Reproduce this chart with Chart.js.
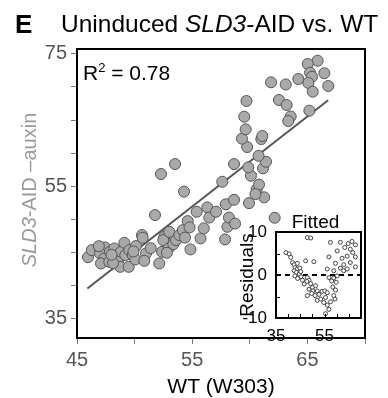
<!DOCTYPE html>
<html>
<head>
<meta charset="utf-8">
<script src="https://cdn.jsdelivr.net/npm/chart.js@4.4.1/dist/chart.umd.min.js"></script>
<style>
  html, body { margin: 0; padding: 0; background: #fff; }
  #wrap { position: relative; width: 388px; height: 398px; }
  #mainChart { position: absolute; left: 0; top: 0; }
  #insetChart { position: absolute; left: 236px; top: 210px; }
</style>
</head>
<body>
<div id="wrap">
  <canvas id="mainChart" width="388" height="398"></canvas>
  <canvas id="insetChart" width="130" height="140"></canvas>
</div>
<script>
// main scatter: WT (W303) vs SLD3-AID -auxin
const wtValues = [45.95, 46.28, 47.00, 47.43, 47.00, 47.37, 47.08, 47.80, 47.86, 48.24,
  48.32, 48.53, 48.82, 48.76, 49.11, 49.19, 49.49, 49.54, 49.84, 50.06,
  50.12, 50.64, 50.70, 50.99, 50.84, 52.14, 52.38, 52.58, 52.49, 52.96,
  53.36, 53.59, 53.01, 53.88, 54.18, 48.13, 54.38, 54.85, 55.72, 51.77,
  52.29, 53.51, 54.29, 54.61, 54.77, 55.39, 56.00, 56.31, 56.48, 57.07,
  57.85, 58.06, 58.19, 58.72, 57.92, 58.63, 59.93, 61.25, 60.60, 60.80,
  60.49, 62.16, 57.61, 60.10, 61.15, 59.87, 58.63, 61.41, 60.76, 59.77,
  59.32, 61.00, 61.09, 59.64, 59.52, 59.71, 65.89, 65.03, 65.23, 66.47,
  65.40, 64.21, 65.08, 66.81, 61.84, 63.12, 65.46, 62.53, 63.20, 65.17,
  63.55, 63.34, 46.90, 48.00, 49.90, 51.40, 52.80];
const sld3Values = [44.24, 45.30, 45.45, 45.71, 44.80, 44.05, 43.29, 43.53, 45.05, 45.56,
  44.29, 43.53, 45.05, 42.77, 46.41, 44.55, 42.77, 45.30, 44.55, 43.89,
  45.91, 47.58, 47.17, 44.80, 43.68, 43.29, 45.05, 47.32, 46.82, 45.56,
  46.21, 46.82, 48.08, 47.58, 48.33, 43.33, 47.20, 45.41, 47.08, 50.61,
  56.82, 58.33, 54.17, 49.70, 48.74, 51.11, 48.59, 51.77, 50.23, 51.11,
  46.92, 48.83, 50.23, 49.32, 52.24, 52.92, 52.42, 53.30, 54.50, 55.23,
  53.79, 50.20, 55.65, 56.56, 57.68, 57.83, 58.33, 58.68, 59.58, 60.91,
  62.17, 62.12, 62.58, 63.59, 65.50, 67.88, 73.98, 73.48, 72.17, 72.08,
  71.56, 71.21, 70.61, 70.15, 70.71, 70.38, 69.29, 68.03, 67.27, 66.41,
  65.53, 64.85, 45.90, 44.60, 45.10, 45.60, 44.90];

// fitted line ends
const fitX = [45.9, 66.8];
const fitY = [39.5, 68.0];

const xTicks = [45, 50, 55, 60, 65, 70];
const xTickLabels = ["45", "", "55", "", "65", ""];
const yTicks = [35, 40, 45, 50, 55, 60, 65, 70, 75];
const yTickLabels = ["35", "", "", "", "55", "", "", "", "75"];

// inset: residuals vs fitted
const fittedValues = [47.9, 49.3, 57.4, 61.5, 64.7, 66.3, 67.7, 63.3, 65.6, 60.2,
  66.6, 64.3, 67.7, 56.8, 62.2, 59.5, 62.9, 65.6, 67.7, 56.1,
  58.8, 61.5, 62.9, 64.3, 47.2, 50.6, 39.1, 40.4, 41.1, 41.8,
  42.5, 43.8, 42.9, 43.8, 44.8, 42.5, 43.4, 44.5, 45.2, 42.8,
  43.9, 45.3, 45.9, 47.9, 48.6, 47.7, 46.6, 49.3, 50.0, 51.3,
  48.6, 50.2, 52.0, 49.7, 51.1, 47.9, 52.7, 54.0, 55.1, 56.1,
  52.0, 53.4, 55.4, 54.7, 56.1, 56.8, 55.4, 57.5, 58.8, 59.3,
  59.5, 58.4, 59.8, 58.8, 57.9, 56.8, 60.2];
const residualValues = [8.7, 8.6, 7.6, 7.6, 7.3, 7.8, 7.0, 6.4, 6.0, 5.6,
  5.2, 4.4, 4.2, 4.2, 3.9, 2.7, 2.4, 2.9, 1.9, 1.4,
  1.0, 1.6, 1.0, 1.4, 3.3, 3.1, 5.2, 4.9, 4.1, 2.9,
  2.4, 2.7, 1.7, 1.4, 1.6, 1.0, 0.6, 0.2, 0.8, -0.2,
  -0.8, -0.4, -1.2, -0.6, -1.2, -1.5, -2.1, -2.0, -2.9, -2.5,
  -3.3, -3.7, -3.7, -4.3, -4.8, -4.8, -4.5, -3.8, -3.7, -4.1,
  -5.9, -5.6, -5.2, -6.4, -7.0, -8.0, -9.0, -6.2, -4.8, -5.6,
  -3.5, -2.8, -1.7, -0.7, -1.4, -0.6, -0.2];

const insetXTicks = [35, 40, 45, 50, 55, 60, 65, 70];
const insetXTickLabels = ["35", "", "", "", "55", "", "", ""];
const insetYTicks = [-10, -5, 0, 5, 10];
const insetYTickLabels = ["-10", "", "0", "", "10"];

const FONT = "'Liberation Sans', Arial, Helvetica, sans-serif";

// draws pieces of text with mixed styles one after another
function drawRuns(ctx, runs, x, y) {
  let cx = x;
  runs.forEach(r => {
    ctx.font = r.font;
    ctx.fillStyle = r.color;
    ctx.fillText(r.text, cx, y + (r.dy || 0));
    cx += ctx.measureText(r.text).width;
  });
}
function runsWidth(ctx, runs) {
  let w = 0;
  runs.forEach(r => { ctx.font = r.font; w += ctx.measureText(r.text).width; });
  return w;
}

const mainDecor = {
  id: "mainDecor",
  afterDatasetsDraw(chart) {
    const ctx = chart.ctx;
    const a = chart.chartArea;
    ctx.save();
    ctx.strokeStyle = "#000";
    ctx.lineWidth = 2;
    ctx.strokeRect(a.left, a.top, a.right - a.left, a.bottom - a.top);

    ctx.textAlign = "left";
    ctx.textBaseline = "alphabetic";
    // panel letter + title
    drawRuns(ctx, [{ text: "E", font: "bold 26px " + FONT, color: "#000" }], 15, 33);
    drawRuns(ctx, [
      { text: "Uninduced ", font: "24.5px " + FONT, color: "#000" },
      { text: "SLD3", font: "italic 24.5px " + FONT, color: "#000" },
      { text: "-AID vs. WT", font: "24.5px " + FONT, color: "#000" }
    ], 61, 32);

    // R^2 annotation
    drawRuns(ctx, [
      { text: "R", font: "21px " + FONT, color: "#000" },
      { text: "2", font: "13px " + FONT, color: "#000", dy: -8 },
      { text: " = 0.78", font: "21px " + FONT, color: "#000" }
    ], 83, 80);

    // x title
    ctx.textAlign = "center";
    ctx.font = "21px " + FONT;
    ctx.fillStyle = "#000";
    ctx.fillText("WT (W303)", (a.left + a.right) / 2, 393);

    // y title (rotated)
    const yRuns = [
      { text: "SLD3", font: "italic 20px " + FONT, color: "#999" },
      { text: "-AID \u2013auxin", font: "20px " + FONT, color: "#999" }
    ];
    ctx.translate(36, 190);
    ctx.rotate(-Math.PI / 2);
    ctx.textAlign = "left";
    drawRuns(ctx, yRuns, -runsWidth(ctx, yRuns) / 2, 0);
    ctx.restore();
  }
};

const mainChart = new Chart(document.getElementById("mainChart"), {
  type: "scatter",
  data: {
    datasets: [
      {
        label: "genes",
        data: wtValues.map((x, i) => ({ x: x, y: sld3Values[i] })),
        backgroundColor: "#a9a9a9",
        borderColor: "#555",
        borderWidth: 1,
        pointRadius: 5.5
      },
      {
        type: "line",
        label: "fit",
        data: fitX.map((x, i) => ({ x: x, y: fitY[i] })),
        borderColor: "#555",
        borderWidth: 2,
        pointRadius: 0,
        fill: false
      }
    ]
  },
  options: {
    responsive: false,
    animation: false,
    layout: { padding: { top: 49, right: 23, left: 0, bottom: 0 } },
    plugins: { legend: { display: false }, tooltip: { enabled: false } },
    scales: {
      x: {
        type: "linear",
        min: 45,
        max: 70,
        afterBuildTicks: s => { s.ticks = xTicks.map(v => ({ value: v })); },
        afterFit: s => { s.height = 60; },
        border: { display: false },
        grid: { drawOnChartArea: false, drawTicks: true, tickLength: 6, color: "#777" },
        ticks: {
          autoSkip: false,
          maxRotation: 0,
          padding: 4,
          color: "#555",
          font: { family: FONT, size: 20 },
          callback: (v, i) => xTickLabels[i]
        }
      },
      y: {
        type: "linear",
        min: 32,
        max: 75.75,
        afterBuildTicks: s => { s.ticks = yTicks.map(v => ({ value: v })); },
        afterFit: s => { s.width = 77; },
        border: { display: false },
        grid: { drawOnChartArea: false, drawTicks: true, tickLength: 6, color: "#777" },
        ticks: {
          autoSkip: false,
          padding: 4,
          color: "#555",
          font: { family: FONT, size: 20 },
          callback: (v, i) => yTickLabels[i]
        }
      }
    }
  },
  plugins: [mainDecor]
});

const insetDecor = {
  id: "insetDecor",
  beforeDatasetsDraw(chart) {
    const ctx = chart.ctx;
    const a = chart.chartArea;
    ctx.save();
    ctx.fillStyle = "#fff";
    ctx.fillRect(a.left, a.top, a.right - a.left, a.bottom - a.top);
    ctx.restore();
  },
  afterDatasetsDraw(chart) {
    const ctx = chart.ctx;
    const a = chart.chartArea;
    const sx = chart.scales.x;
    const sy = chart.scales.y;
    ctx.save();
    // inward tick marks
    ctx.strokeStyle = "#000";
    ctx.lineWidth = 1;
    ctx.beginPath();
    insetXTicks.forEach(v => {
      const px = Math.round(sx.getPixelForValue(v)) + 0.5;
      ctx.moveTo(px, a.bottom);
      ctx.lineTo(px, a.bottom - 4);
    });
    insetYTicks.forEach(v => {
      const py = Math.round(sy.getPixelForValue(v)) + 0.5;
      ctx.moveTo(a.left, py);
      ctx.lineTo(a.left + 4, py);
    });
    ctx.stroke();

    ctx.lineWidth = 2;
    ctx.strokeRect(a.left, a.top, a.right - a.left, a.bottom - a.top);

    ctx.fillStyle = "#000";
    ctx.font = "19px " + FONT;
    ctx.textAlign = "center";
    ctx.textBaseline = "alphabetic";
    ctx.fillText("Fitted", (a.left + a.right) / 2 - 3, a.top - 4);

    ctx.translate(17, (a.top + a.bottom) / 2);
    ctx.rotate(-Math.PI / 2);
    ctx.fillText("Residuals", 0, 0);
    ctx.restore();
  }
};

const insetChart = new Chart(document.getElementById("insetChart"), {
  type: "scatter",
  data: {
    datasets: [
      {
        label: "residuals",
        data: fittedValues.map((x, i) => ({ x: x, y: residualValues[i] })),
        backgroundColor: "#fff",
        borderColor: "#444",
        borderWidth: 1,
        pointRadius: 2
      },
      {
        type: "line",
        label: "zero",
        data: [{ x: 35, y: 0 }, { x: 70, y: 0 }],
        borderColor: "#000",
        borderWidth: 2,
        borderDash: [5, 4],
        pointRadius: 0,
        fill: false
      }
    ]
  },
  options: {
    responsive: false,
    animation: false,
    layout: { padding: { top: 22, right: 5, left: 0, bottom: 0 } },
    plugins: { legend: { display: false }, tooltip: { enabled: false } },
    scales: {
      x: {
        type: "linear",
        min: 35,
        max: 70,
        afterBuildTicks: s => { s.ticks = insetXTicks.map(v => ({ value: v })); },
        afterFit: s => { s.height = 32; },
        border: { display: false },
        grid: { display: false },
        ticks: {
          autoSkip: false,
          maxRotation: 0,
          padding: 0,
          color: "#000",
          font: { family: FONT, size: 17 },
          callback: (v, i) => insetXTickLabels[i]
        }
      },
      y: {
        type: "linear",
        min: -10,
        max: 10,
        afterBuildTicks: s => { s.ticks = insetYTicks.map(v => ({ value: v })); },
        afterFit: s => { s.width = 40; },
        border: { display: false },
        grid: { display: false },
        ticks: {
          autoSkip: false,
          padding: 1,
          color: "#000",
          font: { family: FONT, size: 17 },
          callback: (v, i) => insetYTickLabels[i]
        }
      }
    }
  },
  plugins: [insetDecor]
});
</script>
</body>
</html>
